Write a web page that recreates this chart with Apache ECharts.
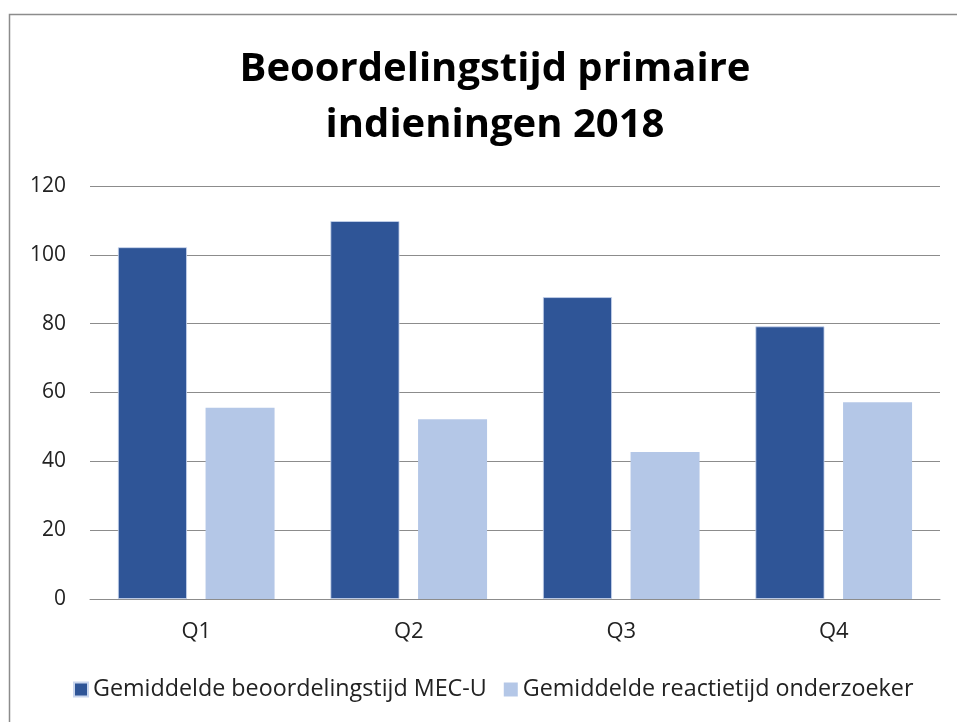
<!DOCTYPE html>
<html><head><meta charset="utf-8">
<script src="https://cdn.jsdelivr.net/npm/echarts@6/dist/echarts.min.js"></script>
<style>html,body{margin:0;padding:0;background:#fff}#c{width:957px;height:722px}</style>
</head><body><div id="c"></div>
<script>
const categories = ['Q1', 'Q2', 'Q3', 'Q4'];
const seriesNames = ['Gemiddelde beoordelingstijd MEC-U', 'Gemiddelde reactietijd onderzoeker'];
const beoordelingstijd = [102.2, 109.8, 87.7, 79.2];
const reactietijd = [55.6, 52.2, 42.7, 57.2];
const yTicks = [0, 20, 40, 60, 80, 100, 120];

const chart = echarts.init(document.getElementById('c'));
const font = 'Open Sans, Liberation Sans, sans-serif';
chart.setOption({
  animation: false,
  title: {
    text: 'Beoordelingstijd primaire\nindieningen 2018',
    left: 490, top: 37, textAlign: 'center',
    textStyle: { fontFamily: font, fontWeight: 'bold', fontSize: 40, lineHeight: 56, color: '#000' }
  },
  graphic: [{
    type: 'rect', silent: true,
    shape: { x: 9.5, y: 14.5, width: 1000, height: 1000 },
    style: { fill: 'none', stroke: '#8c8c8c', lineWidth: 1.5 }
  }],
  legend: {
    bottom: 16, left: 68, itemWidth: 14, itemHeight: 14, itemGap: 17,
    icon: 'rect',
    textStyle: { fontFamily: font, fontSize: 23.3, color: '#222' },
    data: seriesNames
  },
  grid: { left: 90, right: 17, top: 186, bottom: 123 },
  xAxis: {
    type: 'category', data: categories,
    axisTick: { show: false },
    axisLine: { lineStyle: { color: '#8c8c8c', width: 1 } },
    axisLabel: { fontFamily: font, fontSize: 22, color: '#222', margin: 22 }
  },
  yAxis: {
    type: 'value', min: yTicks[0], max: yTicks[yTicks.length - 1], interval: 20,
    axisLine: { show: false }, axisTick: { show: false },
    axisLabel: { fontFamily: font, fontSize: 21, color: '#222', margin: 24 },
    splitLine: { lineStyle: { color: '#8c8c8c', width: 1 } }
  },
  series: [
    { name: seriesNames[0], type: 'bar', data: beoordelingstijd, barWidth: 69, barGap: '27%',
      itemStyle: { color: '#2f5597', borderColor: '#c9d6ee', borderWidth: 0.8 } },
    { name: seriesNames[1], type: 'bar', data: reactietijd, barWidth: 69,
      itemStyle: { color: '#b4c7e7' } }
  ]
});
</script></body></html>
